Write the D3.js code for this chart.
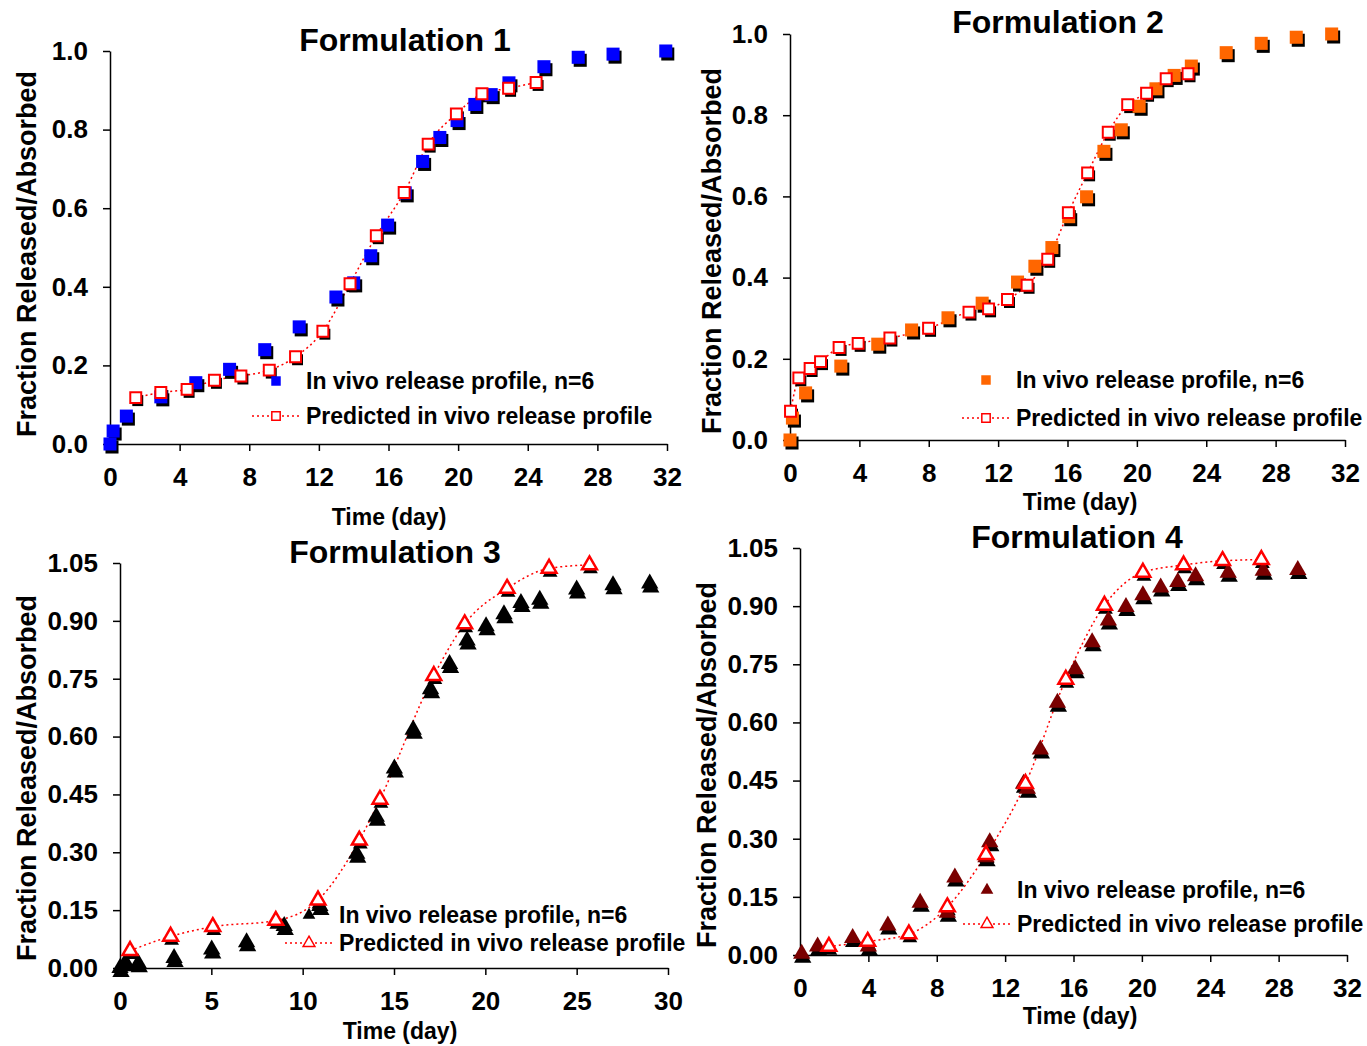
<!DOCTYPE html>
<html>
<head>
<meta charset="utf-8">
<script src="https://cdn.jsdelivr.net/npm/d3@7"></script>
<style>
  body { margin: 0; background: #fff; }
  svg text { font-family: "Liberation Sans", Arial, sans-serif; font-weight: bold; fill: #000; }
</style>
</head>
<body>
<div id="root"></div>
<script>
// ---- data ----
const days1 = [0, 0.18, 0.94, 2.92, 4.93, 6.87, 8.89, 10.87, 12.98, 14.0, 14.98, 15.95, 16.96, 17.96, 18.95, 19.94, 20.96, 21.9, 22.92, 24.93, 26.9, 28.9, 31.93];
const vivo1 = [0.0, 0.033, 0.071, 0.12, 0.156, 0.19, 0.24, 0.298, 0.374, 0.41, 0.479, 0.557, 0.639, 0.719, 0.78, 0.823, 0.864, 0.889, 0.919, 0.96, 0.984, 0.992, 1.0];
const predDays1 = [1.48, 2.92, 4.43, 6.0, 7.52, 9.15, 10.66, 12.23, 13.79, 15.3, 16.9, 18.28, 19.9, 21.37, 22.9, 24.48];
const pred1 = [0.118, 0.131, 0.139, 0.162, 0.173, 0.188, 0.222, 0.287, 0.408, 0.53, 0.64, 0.763, 0.84, 0.891, 0.905, 0.92];

const days2 = [0, 0.14, 0.9, 2.93, 5.06, 7.01, 9.11, 11.08, 13.12, 14.12, 15.1, 16.07, 17.1, 18.1, 19.1, 20.13, 21.1, 22.15, 23.14, 25.15, 27.17, 29.19, 31.23];
const vivo2 = [0.0, 0.054, 0.116, 0.182, 0.236, 0.271, 0.301, 0.337, 0.389, 0.428, 0.474, 0.55, 0.599, 0.711, 0.764, 0.822, 0.865, 0.898, 0.921, 0.954, 0.977, 0.992, 1.0];
const predDays2 = [0.03, 0.51, 1.16, 1.76, 2.83, 3.93, 5.76, 7.99, 10.32, 11.45, 12.54, 13.67, 14.86, 16.05, 17.16, 18.35, 19.47, 20.56, 21.69, 22.95];
const pred2 = [0.071, 0.153, 0.176, 0.193, 0.228, 0.238, 0.251, 0.275, 0.315, 0.323, 0.346, 0.381, 0.445, 0.56, 0.658, 0.758, 0.826, 0.854, 0.89, 0.902];

const days3 = [0, 0.3, 1.0, 2.96, 5.02, 6.93, 8.99, 10.94, 12.96, 14.03, 15.02, 16.05, 17.0, 18.04, 19.0, 20.04, 21.02, 21.95, 22.98, 25.0, 26.99, 29.0];
const vivo3 = [0.0, 0.015, 0.012, 0.026, 0.048, 0.067, 0.109, 0.161, 0.296, 0.392, 0.517, 0.618, 0.723, 0.788, 0.849, 0.886, 0.917, 0.946, 0.955, 0.981, 0.992, 0.997];
const predDays3 = [0.55, 2.77, 5.08, 8.53, 10.84, 13.1, 14.23, 17.18, 18.87, 21.19, 23.49, 25.7];
const pred3 = [0.045, 0.082, 0.107, 0.123, 0.176, 0.331, 0.437, 0.758, 0.892, 0.984, 1.036, 1.045];

const days4 = [0.1, 1.03, 3.08, 4.0, 5.14, 7.03, 8.62, 9.06, 10.88, 11.1, 13.08, 13.3, 14.06, 15.06, 16.1, 17.09, 18.04, 19.07, 20.06, 21.1, 22.1, 23.14, 25.05, 27.1, 29.12];
const vivo4 = [0.003, 0.022, 0.044, 0.022, 0.076, 0.135, 0.109, 0.2, 0.252, 0.291, 0.442, 0.429, 0.53, 0.651, 0.737, 0.807, 0.863, 0.898, 0.928, 0.948, 0.962, 0.977, 0.986, 0.991, 0.993];
const predDays4 = [1.69, 3.96, 6.37, 8.62, 10.88, 13.19, 15.55, 17.81, 20.06, 22.44, 24.72, 26.99];
const pred4 = [0.022, 0.035, 0.054, 0.124, 0.259, 0.442, 0.711, 0.902, 0.987, 1.006, 1.017, 1.02];

const titles = ["Formulation 1", "Formulation 2", "Formulation 3", "Formulation 4"];
const xTicks12 = [0, 4, 8, 12, 16, 20, 24, 28, 32];
const xTicks3 = [0, 5, 10, 15, 20, 25, 30];
const yTicks12 = [0, 0.2, 0.4, 0.6, 0.8, 1.0];
const yTicks34 = [0, 0.15, 0.30, 0.45, 0.60, 0.75, 0.90, 1.05];
const legendLabels = ["In vivo release profile, n=6", "Predicted in vivo release profile"];
const xTitle = "Time (day)";
const yTitle = "Fraction Released/Absorbed";

const width = 1367, height = 1046;
const svg = d3.select("#root").append("svg").attr("width", width).attr("height", height);

// panel layouts
const panels = [
  { days: days1, vivo: vivo1, pdays: predDays1, pred: pred1, title: titles[0], shape: "square", color: "#0000ff",
    left: 110, right: 667, top: 51, bottom: 444, xMax: 32, xTicks: xTicks12, yMax: 1.0, yTicks: yTicks12, fmt: ".1f",
    titlePos: [405, 40], xTitlePos: [389, 517], yTitlePos: [27, 254], legend: [276, 381, 416] },
  { days: days2, vivo: vivo2, pdays: predDays2, pred: pred2, title: titles[1], shape: "square", color: "#ff6600",
    left: 790, right: 1345, top: 34, bottom: 440, xMax: 32, xTicks: xTicks12, yMax: 1.0, yTicks: yTicks12, fmt: ".1f",
    titlePos: [1058, 22], xTitlePos: [1080, 502], yTitlePos: [712, 251], legend: [986, 380, 418] },
  { days: days3, vivo: vivo3, pdays: predDays3, pred: pred3, title: titles[2], shape: "triangle", color: "#000000",
    left: 120, right: 668, top: 563, bottom: 968, xMax: 30, xTicks: xTicks3, yMax: 1.05, yTicks: yTicks34, fmt: ".2f",
    titlePos: [395, 552], xTitlePos: [400, 1031], yTitlePos: [27, 778], legend: [309, 915, 943] },
  { days: days4, vivo: vivo4, pdays: predDays4, pred: pred4, title: titles[3], shape: "triangle", color: "#7a0000",
    left: 800, right: 1347, top: 548, bottom: 955, xMax: 32, xTicks: xTicks12, yMax: 1.05, yTicks: yTicks34, fmt: ".2f",
    titlePos: [1077, 537], xTitlePos: [1080, 1016], yTitlePos: [707, 765], legend: [987, 890, 924] }
];

function markerPath(shape, size) {
  const t = shape === "square" ? d3.symbolSquare : d3.symbolTriangle;
  return d3.symbol().type(t).size(size)();
}

panels.forEach(p => {
  const x = d3.scaleLinear().domain([0, p.xMax]).range([p.left, p.right]);
  const y = d3.scaleLinear().domain([0, p.yMax]).range([p.bottom, p.top]);
  const g = svg.append("g");

  // axes
  const xAxis = g.append("g").attr("transform", `translate(0,${p.bottom})`)
    .call(d3.axisBottom(x).tickValues(p.xTicks).tickSize(7).tickSizeOuter(0));
  const yAxis = g.append("g").attr("transform", `translate(${p.left},0)`)
    .call(d3.axisLeft(y).tickValues(p.yTicks).tickSize(7).tickPadding(15).tickSizeOuter(0).tickFormat(d3.format(p.fmt)));
  [xAxis, yAxis].forEach(a => {
    a.select(".domain").attr("stroke", "#000").attr("stroke-width", 1.5);
    a.selectAll(".tick line").attr("stroke", "#000").attr("stroke-width", 1.5);
    a.selectAll(".tick text").style("font-size", "26px").attr("fill", "#000");
  });
  xAxis.selectAll(".tick text").attr("y", 33).attr("dy", null).attr("dominant-baseline", "central");

  // titles
  g.append("text").attr("x", p.titlePos[0]).attr("y", p.titlePos[1]).attr("text-anchor", "middle")
    .attr("dominant-baseline", "central").style("font-size", "32px").text(p.title);
  g.append("text").attr("x", p.xTitlePos[0]).attr("y", p.xTitlePos[1]).attr("text-anchor", "middle")
    .attr("dominant-baseline", "central").style("font-size", "23px").text(xTitle);
  g.append("text").attr("transform", `translate(${p.yTitlePos[0]},${p.yTitlePos[1]}) rotate(-90)`)
    .attr("text-anchor", "middle").attr("dominant-baseline", "central").style("font-size", "27px").text(yTitle);

  const vivoData = p.days.map((d, i) => [d, p.vivo[i]]);
  const predData = p.pdays.map((d, i) => [d, p.pred[i]]);
  const isSq = p.shape === "square";
  const big = isSq ? 170 : 130;
  const small = isSq ? 120 : 95;
  const sh = isSq ? [2, 3] : [1, 4];

  // predicted dotted line
  g.append("path").datum(predData)
    .attr("d", d3.line().x(d => x(d[0])).y(d => y(d[1])).curve(d3.curveMonotoneX))
    .attr("fill", "none").attr("stroke", "#ff0000").attr("stroke-width", 1.5).attr("stroke-dasharray", "2,3");

  // shadows
  g.selectAll(".shadow-v").data(vivoData).join("path")
    .attr("d", markerPath(p.shape, big))
    .attr("transform", d => `translate(${x(d[0]) + sh[0]},${y(d[1]) + sh[1]})`)
    .attr("fill", "#000");
  g.selectAll(".shadow-p").data(predData).join("path")
    .attr("d", markerPath(p.shape, small))
    .attr("transform", d => `translate(${x(d[0]) + sh[0]},${y(d[1]) + sh[1]})`)
    .attr("fill", "#000");

  // in vivo markers
  g.selectAll(".vivo").data(vivoData).join("path")
    .attr("d", markerPath(p.shape, big))
    .attr("transform", d => `translate(${x(d[0])},${y(d[1])})`)
    .attr("fill", p.color);

  // predicted markers
  g.selectAll(".pred").data(predData).join("path")
    .attr("d", markerPath(p.shape, small))
    .attr("transform", d => `translate(${x(d[0])},${y(d[1])})`)
    .attr("fill", "#fff").attr("stroke", "#ff0000").attr("stroke-width", isSq ? 2 : 2.5);

  // legend
  const [lx, ly1, ly2] = p.legend;
  g.append("path").attr("d", markerPath(p.shape, isSq ? 90 : 70))
    .attr("transform", `translate(${lx},${ly1})`).attr("fill", p.color);
  g.append("line").attr("x1", lx - 24).attr("x2", lx + 24).attr("y1", ly2).attr("y2", ly2)
    .attr("stroke", "#ff0000").attr("stroke-width", 1.5).attr("stroke-dasharray", "2,3");
  g.append("path").attr("d", markerPath(p.shape, isSq ? 70 : 60))
    .attr("transform", `translate(${lx},${ly2})`).attr("fill", "#fff").attr("stroke", "#ff0000").attr("stroke-width", 1.5);
  [ly1, ly2].forEach((ly, i) => {
    g.append("text").attr("x", lx + 30).attr("y", ly).attr("dominant-baseline", "central")
      .style("font-size", "23px").text(legendLabels[i]);
  });
});
</script>
</body>
</html>
